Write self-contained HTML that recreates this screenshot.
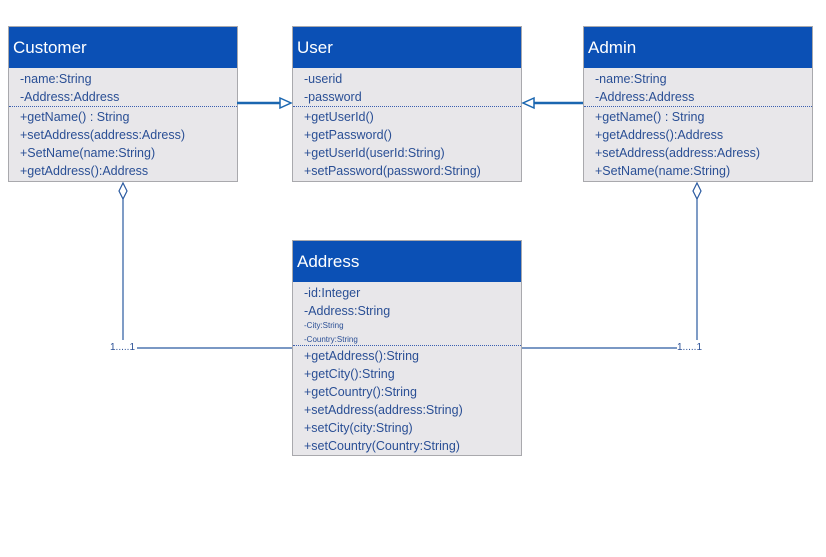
<!DOCTYPE html>
<html><head><meta charset="utf-8"><style>
body{margin:0;width:826px;height:557px;background:#fff;position:relative;overflow:hidden;font-family:"Liberation Sans",sans-serif}
.box{position:absolute;background:#e8e7ea;border:1px solid #a9a9ad;box-sizing:border-box}
.hd{background:#0b50b5;color:#fff;font-size:17px;height:41px;line-height:41px;padding-left:4px}
.t{position:absolute;left:11px;color:#2a4f95;font-size:12.5px;white-space:nowrap;line-height:14px}
.s{font-size:8px}
.sep{position:absolute;left:0;right:0;border-top:1px dotted #3a5fb0}
.lbl{position:absolute;font-size:10px;color:#2a4f95}
</style></head><body>
<div class="box" style="left:8px;top:26px;width:230px;height:156px"><div class="hd">Customer</div>
<div class="t" style="top:45px">-name:String</div><div class="t" style="top:63px">-Address:Address</div>
<div class="sep" style="top:79px"></div>
<div class="t" style="top:83px">+getName() : String</div><div class="t" style="top:101px">+setAddress(address:Adress)</div>
<div class="t" style="top:119px">+SetName(name:String)</div><div class="t" style="top:137px">+getAddress():Address</div></div>

<div class="box" style="left:292px;top:26px;width:230px;height:156px"><div class="hd">User</div>
<div class="t" style="top:45px">-userid</div><div class="t" style="top:63px">-password</div>
<div class="sep" style="top:79px"></div>
<div class="t" style="top:83px">+getUserId()</div><div class="t" style="top:101px">+getPassword()</div>
<div class="t" style="top:119px">+getUserId(userId:String)</div><div class="t" style="top:137px">+setPassword(password:String)</div></div>

<div class="box" style="left:583px;top:26px;width:230px;height:156px"><div class="hd">Admin</div>
<div class="t" style="top:45px">-name:String</div><div class="t" style="top:63px">-Address:Address</div>
<div class="sep" style="top:79px"></div>
<div class="t" style="top:83px">+getName() : String</div><div class="t" style="top:101px">+getAddress():Address</div>
<div class="t" style="top:119px">+setAddress(address:Adress)</div><div class="t" style="top:137px">+SetName(name:String)</div></div>

<div class="box" style="left:292px;top:240px;width:230px;height:216px"><div class="hd">Address</div>
<div class="t" style="top:45px">-id:Integer</div><div class="t" style="top:63px">-Address:String</div>
<div class="t s" style="top:78px">-City:String</div><div class="t s" style="top:92px">-Country:String</div>
<div class="sep" style="top:104px"></div>
<div class="t" style="top:108px">+getAddress():String</div><div class="t" style="top:126px">+getCity():String</div>
<div class="t" style="top:144px">+getCountry():String</div><div class="t" style="top:162px">+setAddress(address:String)</div>
<div class="t" style="top:180px">+setCity(city:String)</div><div class="t" style="top:198px">+setCountry(Country:String)</div></div>

<svg width="826" height="557" style="position:absolute;left:0;top:0" xmlns="http://www.w3.org/2000/svg">
<g stroke="#1a66b0" stroke-width="2.5" fill="#fff">
<line x1="237" y1="103" x2="280" y2="103"/>
<polygon points="280,98 291,103 280,108" stroke-width="1.5"/>
<line x1="583" y1="103" x2="534" y2="103"/>
<polygon points="534,98 523,103 534,108" stroke-width="1.5"/>
</g>
<g stroke="#2a5aa0" stroke-width="1.2" fill="#fff">
<polygon points="123,183 127,191 123,199 119,191"/>
<line x1="123" y1="199" x2="123" y2="340"/>
<line x1="137" y1="348" x2="292" y2="348"/>
<polygon points="697,183 701,191 697,199 693,191"/>
<line x1="697" y1="199" x2="697" y2="340"/>
<line x1="522" y1="348" x2="677" y2="348"/>
</g>
</svg>
<div class="lbl" style="left:110px;top:342px">1.....1</div>
<div class="lbl" style="left:677px;top:342px">1.....1</div>
</body></html>
